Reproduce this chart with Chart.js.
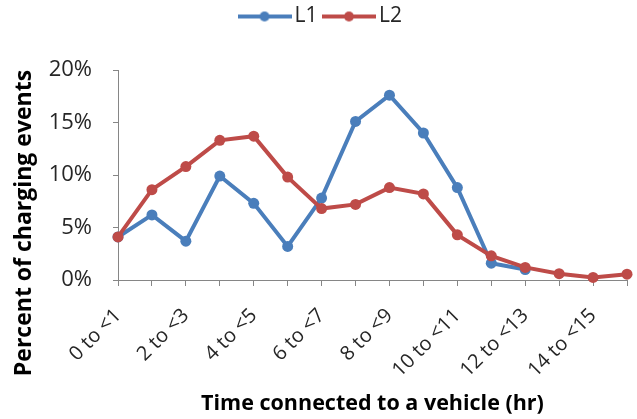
<!DOCTYPE html>
<html>
<head>
<meta charset="utf-8">
<script src="https://cdn.jsdelivr.net/npm/chart.js@4.4.1/dist/chart.umd.min.js"></script>
<style>
  html, body { margin: 0; padding: 0; background: #ffffff; }
  #wrap { width: 637px; height: 419px; }
</style>
</head>
<body>
<div id="wrap"><canvas id="chart" width="637" height="419"></canvas></div>
<script>
// Hours connected, one bucket per hour
const categories = [
  '0 to <1', '1 to <2', '2 to <3', '3 to <4', '4 to <5', '5 to <6', '6 to <7', '7 to <8',
  '8 to <9', '9 to <10', '10 to <11', '11 to <12', '12 to <13', '13 to <14', '14 to <15', '15 to <16'
];
// Share of charging events (%)
const l1Values = [4.1, 6.2, 3.7, 9.9, 7.3, 3.2, 7.8, 15.1, 17.6, 14.0, 8.8, 1.6, 1.0, null, null, null];
const l2Values = [4.1, 8.6, 10.8, 13.3, 13.7, 9.8, 6.8, 7.2, 8.8, 8.2, 4.3, 2.3, 1.2, 0.6, 0.25, 0.55];
const seriesNames = ['L1', 'L2'];
const yTickValues = [0, 5, 10, 15, 20];

const xTitle = 'Time connected to a vehicle (hr)';
const yTitle = 'Percent of charging events';

const BLUE = '#4a7ebb';
const RED = '#be4b48';
const AXIS = '#868686';
const TEXT = '#262626';
const FONT = "'Open Sans', 'Liberation Sans', sans-serif";

// legend swatch: a short line with a dot in the middle
function swatch(color) {
  const c = document.createElement('canvas');
  c.width = 54; c.height = 12;
  const g = c.getContext('2d');
  g.strokeStyle = color; g.lineWidth = 4;
  g.beginPath(); g.moveTo(0, 6); g.lineTo(54, 6); g.stroke();
  g.fillStyle = color;
  g.beginPath(); g.arc(27, 6, 5, 0, Math.PI * 2); g.fill();
  return c;
}

// axis titles placed beside the plot
const axisTitles = {
  id: 'axisTitles',
  afterDraw(chart) {
    const {ctx, chartArea} = chart;
    ctx.save();
    ctx.fillStyle = '#000000';
    ctx.textAlign = 'center';
    ctx.textBaseline = 'middle';
    ctx.font = 'bold 21.5px ' + FONT;
    ctx.fillText(xTitle, (chartArea.left + chartArea.right) / 2, 404);
    ctx.translate(24, 223);
    ctx.rotate(-Math.PI / 2);
    ctx.font = 'bold 23px ' + FONT;
    ctx.fillText(yTitle, 0, 0);
    ctx.restore();
  }
};

new Chart(document.getElementById('chart'), {
  type: 'line',
  data: {
    labels: categories,
    datasets: [
      {
        label: seriesNames[0], data: l1Values, order: 1, xAxisID: 'x', yAxisID: 'y',
        borderColor: BLUE, backgroundColor: BLUE, borderWidth: 4,
        pointRadius: 5.5, pointHoverRadius: 5.5, pointBackgroundColor: BLUE, pointBorderWidth: 0,
        pointStyle: 'circle', tension: 0, clip: false, spanGaps: false
      },
      {
        label: seriesNames[1], data: l2Values, order: 0, xAxisID: 'x', yAxisID: 'y',
        borderColor: RED, backgroundColor: RED, borderWidth: 4,
        pointRadius: 5.5, pointHoverRadius: 5.5, pointBackgroundColor: RED, pointBorderWidth: 0,
        pointStyle: 'circle', tension: 0, clip: false
      }
    ]
  },
  options: {
    responsive: false,
    animation: false,
    devicePixelRatio: 1,
    layout: { padding: { top: -6, right: 10, left: 20, bottom: 0 } },
    plugins: {
      tooltip: { enabled: false },
      legend: {
        position: 'top',
        labels: {
          usePointStyle: true,
          pointStyleWidth: 39,
          padding: 12,
          color: TEXT,
          font: { family: FONT, size: 21 },
          sort: (a, b) => a.datasetIndex - b.datasetIndex,
          generateLabels(chart) {
            return chart.data.datasets.map((ds, i) => ({
              text: ds.label,
              fillStyle: ds.borderColor,
              strokeStyle: ds.borderColor,
              lineWidth: 0,
              pointStyle: swatch(ds.borderColor),
              fontColor: TEXT,
              hidden: false,
              datasetIndex: i
            }));
          }
        }
      }
    },
    scales: {
      x: {
        type: 'category',
        offset: false,
        border: { display: true, color: AXIS, width: 1 },
        grid: { drawOnChartArea: false, drawTicks: true, tickLength: 6, tickColor: AXIS },
        ticks: {
          autoSkip: false,
          minRotation: 45,
          maxRotation: 45,
          padding: 18,
          color: TEXT,
          font: { family: FONT, size: 20 },
          callback(value, index) { return index % 2 === 0 ? categories[index] : ''; }
        },
        afterFit(scale) {
          scale.height = 139;
          scale.paddingLeft = 0;
          scale.paddingRight = 0;
        }
      },
      y: {
        min: 0,
        max: 20,
        border: { display: true, color: AXIS, width: 1 },
        grid: { drawOnChartArea: false, drawTicks: true, tickLength: 5, tickColor: AXIS },
        afterBuildTicks(scale) { scale.ticks = yTickValues.map(v => ({ value: v })); },
        ticks: {
          padding: 21,
          color: TEXT,
          font: { family: FONT, size: 22 },
          callback(value) { return value + '%'; }
        },
        afterFit(scale) {
          scale.width = 98;
          scale.paddingBottom = 0;
        }
      },
      // empty band between the legend and the plot
      gap: {
        type: 'linear',
        position: 'top',
        display: true,
        grid: { display: false },
        border: { display: false },
        ticks: { display: false },
        afterFit(scale) { scale.height = 33; }
      }
    }
  },
  plugins: [axisTitles]
});
</script>
</body>
</html>
